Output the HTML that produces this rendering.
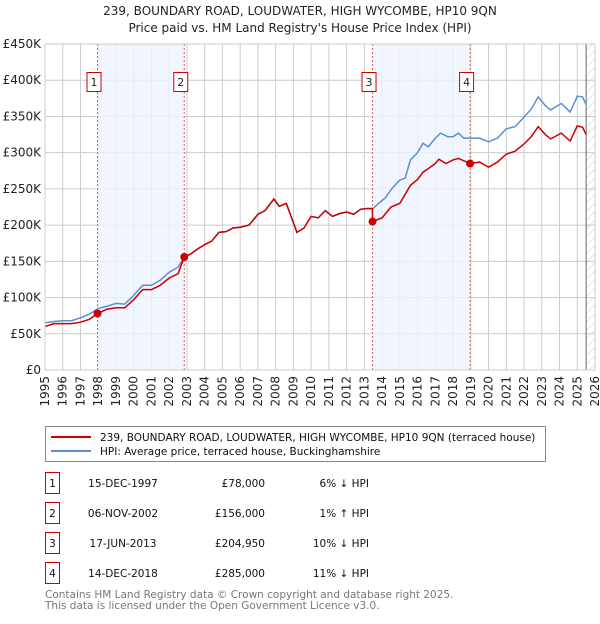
<!DOCTYPE html>
<html><head><meta charset="utf-8"><style>
body{margin:0;background:#fff;font-family:"DejaVu Sans","Liberation Sans",sans-serif;}
svg text{font-family:"DejaVu Sans","Liberation Sans",sans-serif;}
</style></head><body>
<svg id="chart" width="600" height="620" viewBox="0 0 600 620" xmlns="http://www.w3.org/2000/svg">
<text x="300" y="15" text-anchor="middle" font-size="12" fill="#222">239, BOUNDARY ROAD, LOUDWATER, HIGH WYCOMBE, HP10 9QN</text>
<text x="300" y="32" text-anchor="middle" font-size="12" fill="#222">Price paid vs. HM Land Registry's House Price Index (HPI)</text>
<g id="grid"></g><g id="shade"></g><g id="series"></g><g id="axes"></g>
<g>
<rect x="45.5" y="426.5" width="500" height="35" fill="#fff" stroke="#888"/>
<line x1="51" y1="437" x2="91" y2="437" stroke="#cc0000" stroke-width="2"/>
<text x="100" y="441" font-size="10.5" fill="#111">239, BOUNDARY ROAD, LOUDWATER, HIGH WYCOMBE, HP10 9QN (terraced house)</text>
<line x1="51" y1="451" x2="91" y2="451" stroke="#5b8fd1" stroke-width="2"/>
<text x="100" y="455" font-size="10.5" fill="#111">HPI: Average price, terraced house, Buckinghamshire</text>
</g>
<g id="table"></g>
<text x="45" y="598" font-size="10.5" fill="#777">Contains HM Land Registry data © Crown copyright and database right 2025.</text>
<text x="45" y="609" font-size="10.5" fill="#777">This data is licensed under the Open Government Licence v3.0.</text>
</svg>
<script>
const yTicks=[0,50,100,150,200,250,300,350,400,450];
const yTickLabels=["£0","£50K","£100K","£150K","£200K","£250K","£300K","£350K","£400K","£450K"];
const years=[1995,1996,1997,1998,1999,2000,2001,2002,2003,2004,2005,2006,2007,2008,2009,2010,2011,2012,2013,2014,2015,2016,2017,2018,2019,2020,2021,2022,2023,2024,2025,2026];
const hpiX=[1995,1995.5,1996,1996.5,1997,1997.5,1998,1998.5,1999,1999.5,2000,2000.5,2001,2001.5,2002,2002.5,2002.85,2003.2,2003.6,2004,2004.4,2004.8,2005.2,2005.6,2006,2006.5,2007,2007.4,2007.9,2008.2,2008.6,2008.9,2009.2,2009.6,2010,2010.4,2010.8,2011.2,2011.6,2012,2012.4,2012.8,2013.2,2013.46,2013.8,2014.2,2014.6,2015,2015.3,2015.6,2016,2016.3,2016.6,2017,2017.3,2017.7,2018,2018.3,2018.6,2018.96,2019.5,2020,2020.5,2021,2021.5,2022,2022.4,2022.8,2023.2,2023.5,2024.1,2024.6,2025,2025.3,2025.5];
const hpiY=[65,67,68,68,72,77,85,88,92,91,103,117,117,124,135,142,156,160,167,173,178,190,191,196,197,200,215,220,236,226,230,210,190,196,212,210,220,212,216,218,215,222,223,222,230,238,252,262,265,290,300,313,308,320,327,322,322,327,320,320,320,315,320,333,336,349,360,377,365,359,368,356,378,377,366];
const redX=[1995,1995.5,1996,1996.5,1997,1997.5,1997.96,1998.5,1999,1999.5,2000,2000.5,2001,2001.5,2002,2002.5,2002.85,2003.2,2003.6,2004,2004.4,2004.8,2005.2,2005.6,2006,2006.5,2007,2007.4,2007.9,2008.2,2008.6,2008.9,2009.2,2009.6,2010,2010.4,2010.8,2011.2,2011.6,2012,2012.4,2012.8,2013.2,2013.45,2013.46,2014,2014.5,2015,2015.6,2016,2016.3,2016.6,2017,2017.2,2017.6,2018,2018.3,2018.96,2019.5,2020,2020.5,2021,2021.5,2022,2022.4,2022.8,2023.2,2023.5,2024.1,2024.6,2025,2025.3,2025.5];
const redY=[60,64,64,64,66,70,78,84,86,86,97,111,111,117,127,133,156,160,167,173,178,190,191,196,197,200,215,220,236,226,230,210,190,196,212,210,220,212,216,218,215,222,223,223,205,210,225,230,255,263,273,278,285,291,285,290,292,285,287,280,287,298,302,312,322,336,325,319,327,316,337,335,325];
const salesX=[1997.96,2002.85,2013.46,2018.96];
const salesY=[78,156,204.95,285];
const salesLabel=["1","2","3","4"];
const salesDate=["15-DEC-1997","06-NOV-2002","17-JUN-2013","14-DEC-2018"];
const salesPrice=["£78,000","£156,000","£204,950","£285,000"];
const salesDiff=["6% ↓ HPI","1% ↑ HPI","10% ↓ HPI","11% ↓ HPI"];

const NS="http://www.w3.org/2000/svg";
const X0=45,X1=595,Y0=370,Y1=44;
const xs=y=>X0+(y-1995)*(X1-X0)/31;
const ys=v=>Y0-v*(Y0-Y1)/450;
function mk(tag,attrs,parent){const e=document.createElementNS(NS,tag);for(const k in attrs)e.setAttribute(k,attrs[k]);parent.appendChild(e);return e;}
const grid=document.getElementById('grid'),shade=document.getElementById('shade'),ser=document.getElementById('series'),axes=document.getElementById('axes');
mk('rect',{x:X0,y:Y1,width:X1-X0,height:Y0-Y1,fill:'#fff',stroke:'none'},grid);
years.forEach(y=>{const l=mk('line',{x1:xs(y),x2:xs(y),y1:Y1,y2:Y0,stroke:'#cccccc','stroke-width':1},grid);


const t=mk('text',{x:0,y:0,'font-size':12,fill:'#222','text-anchor':'end',transform:`translate(${xs(y)+4},${Y0+6}) rotate(-90)`},axes);t.textContent=y;

});
yTicks.forEach((v,i)=>{const l=mk('line',{x1:X0,x2:X1,y1:ys(v),y2:ys(v),stroke:'#cccccc','stroke-width':1},grid);


const t=mk('text',{x:X0-4,y:ys(v)+4,'font-size':12,fill:'#222','text-anchor':'end'},axes);t.textContent=yTickLabels[i];

});
[[0,1],[2,3]].forEach(p=>{const r=mk('rect',{x:xs(salesX[p[0]]),y:Y1,width:xs(salesX[p[1]])-xs(salesX[p[0]]),height:Y0-Y1,fill:'#eef3fc',opacity:0.8},shade);

});
const hx=xs(2025.5);
const defs=mk('defs',{},shade);const pat=mk('pattern',{id:'hatch',width:6,height:6,patternUnits:'userSpaceOnUse',patternTransform:'rotate(45)'},defs);
mk('line',{x1:0,y1:0,x2:0,y2:6,stroke:'#ccc','stroke-width':1},pat);
const hr=mk('rect',{x:hx,y:Y1,width:X1-hx,height:Y0-Y1,fill:'url(#hatch)'},shade);


const hl=mk('line',{x1:hx,x2:hx,y1:Y1,y2:Y0,stroke:'#666','stroke-width':1},shade);


salesX.forEach((sx,i)=>{const l=mk('line',{x1:xs(sx),x2:xs(sx),y1:Y1,y2:Y0,stroke:'#e06060','stroke-width':1,'stroke-dasharray':'2,2'},shade);


const r=mk('rect',{x:xs(sx)-10.5,y:72.5,width:14,height:19,fill:'#fff',stroke:'#cc0000'},shade);


const t=mk('text',{x:xs(sx)-3.5,y:86,'font-size':11,'text-anchor':'middle',fill:'#222'},shade);t.textContent=salesLabel[i];

});
mk('rect',{x:X0,y:Y1,width:X1-X0,height:Y0-Y1,fill:'none',stroke:'#cccccc'},axes);
const hp=mk('polyline',{points:hpiX.map((x,i)=>xs(x)+','+ys(hpiY[i])).join(' '),fill:'none',stroke:'#5b8fd1','stroke-width':1.5},ser);


const rp=mk('polyline',{points:redX.map((x,i)=>xs(x)+','+ys(redY[i])).join(' '),fill:'none',stroke:'#cc0000','stroke-width':1.5},ser);


salesX.forEach((sx,i)=>{const c=mk('circle',{cx:xs(sx),cy:ys(salesY[i]),r:4,fill:'#cc0000'},ser);

});
const tb=document.getElementById('table');
salesX.forEach((sx,i)=>{const cy=483+i*30;
const r=mk('rect',{x:45.5,y:cy-10.5,width:14,height:21,fill:'#fff',stroke:'#cc0000'},tb);


const cells=[[52.5,'middle',salesLabel[i]],[123,'middle',salesDate[i]],[265,'end',salesPrice[i]],[369,'end',salesDiff[i]]];
cells.forEach(c=>{const t=mk('text',{x:c[0],y:cy+4,'font-size':10.5,'text-anchor':c[1],fill:'#111'},tb);t.textContent=c[2];

});});
</script>
</body></html>
